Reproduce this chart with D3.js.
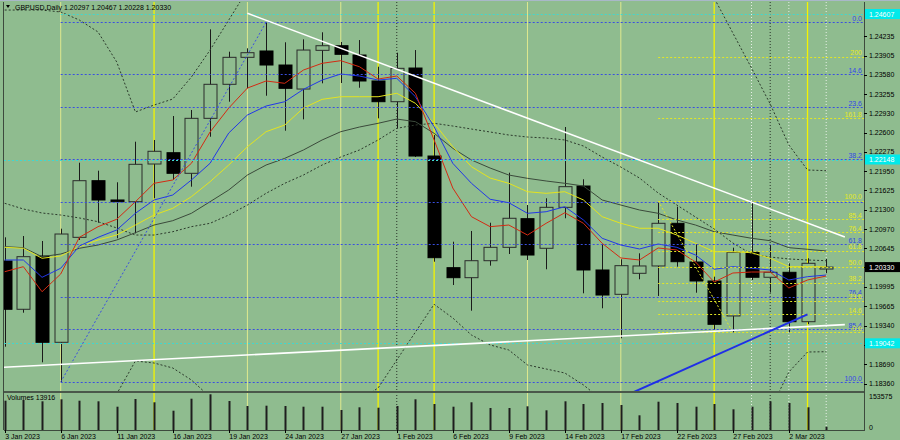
<!DOCTYPE html>
<html lang="en">
<head>
<meta charset="utf-8">
<title>GBPUSD,Daily</title>
<script src="https://cdn.jsdelivr.net/npm/d3@7"></script>
<style>
  body { margin: 0; background: #8fbc8f; }
  svg { display: block; font-family: "Liberation Sans", Arial, sans-serif; }
  .lbl { font-size: 7px; fill: #000; }
  .fib { font-size: 7px; }
</style>
</head>
<body>
<div id="chart"></div>
<script>
// trading days shown on the chart
var dates = ["2023-01-03","2023-01-04","2023-01-05","2023-01-06","2023-01-09","2023-01-10","2023-01-11","2023-01-12","2023-01-13",
  "2023-01-16","2023-01-17","2023-01-18","2023-01-19","2023-01-20","2023-01-23","2023-01-24","2023-01-25","2023-01-26","2023-01-27",
  "2023-01-30","2023-01-31","2023-02-01","2023-02-02","2023-02-03","2023-02-06","2023-02-07","2023-02-08","2023-02-09","2023-02-10",
  "2023-02-13","2023-02-14","2023-02-15","2023-02-16","2023-02-17","2023-02-20","2023-02-21","2023-02-22","2023-02-23","2023-02-24",
  "2023-02-27","2023-02-28","2023-03-01","2023-03-02","2023-03-03","2023-03-06"];

var open  = [1.20433,1.19617,1.20517,1.19059,1.20833,1.21790,1.21464,1.21435,1.22072,1.22263,1.21915,1.22844,1.23419,1.23875,1.23982,
  1.23745,1.23339,1.23993,1.24071,1.23914,1.23475,1.23125,1.23694,1.22207,1.20320,1.20151,1.20438,1.20664,1.21148,1.20648,
  1.21340,1.21700,1.20281,1.19870,1.20225,1.20349,1.21070,1.20416,1.20095,1.19504,1.20580,1.20158,1.20242,1.19407,1.20297];
var high  = [1.20833,1.20855,1.20771,1.20979,1.22094,1.21959,1.21763,1.22449,1.22478,1.22883,1.22985,1.24348,1.23970,1.24027,1.24467,
  1.24129,1.24179,1.24298,1.24134,1.24167,1.23716,1.23953,1.23998,1.22562,1.20759,1.20940,1.21080,1.21925,1.21379,1.21493,
  1.22697,1.21814,1.20720,1.20462,1.20563,1.21447,1.21351,1.20720,1.20168,1.20658,1.21435,1.20700,1.20394,1.20479,1.20467];
var low   = [1.18985,1.19559,1.18721,1.18388,1.20788,1.21080,1.20817,1.20901,1.21493,1.21802,1.21689,1.22533,1.23125,1.23351,1.23226,
  1.22635,1.22827,1.23436,1.23441,1.23361,1.22844,1.22675,1.22190,1.20421,1.20027,1.19593,1.20354,1.20551,1.20450,1.20293,
  1.21155,1.19887,1.19634,1.19127,1.20124,1.19842,1.20337,1.19897,1.19267,1.19228,1.20112,1.19900,1.19228,1.19368,1.20228];
var close = [1.19617,1.20506,1.19059,1.20889,1.21790,1.21464,1.21435,1.22067,1.22287,1.21915,1.22844,1.23419,1.23875,1.23953,1.23745,
  1.23351,1.23998,1.24071,1.23926,1.23475,1.23125,1.23689,1.22207,1.20489,1.20151,1.20438,1.20664,1.21155,1.20534,1.21340,
  1.21689,1.20281,1.19858,1.20354,1.20349,1.21070,1.20421,1.20095,1.19363,1.20580,1.20158,1.20242,1.19407,1.20394,1.20330];
var volume = [125000,128000,122400,131000,125000,122400,99400,132200,118200,82300,133500,152300,123700,102400,103700,
  102400,99400,99400,85300,96800,95100,102400,131000,110900,99400,118200,93900,93900,101100,84000,
  122400,110900,115200,106700,62700,120700,115200,99400,110900,88300,99400,122400,115200,96800,13916];

// moving averages and bands
var maRed = [1.20252,1.20337,1.19914,1.20213,1.20833,1.21013,1.21138,1.21435,1.21746,1.21802,1.22084,1.22613,1.23018,1.23356,1.23475,
  1.23436,1.23660,1.23774,1.23818,1.23716,1.23508,1.23559,1.23267,1.22478,1.21666,1.21182,1.21013,1.21041,1.20872,1.21070,
  1.21249,1.21070,1.20732,1.20484,1.20450,1.20653,1.20619,1.20416,1.20078,1.20230,1.20247,1.20247,1.19977,1.20112,1.20179];
var maBlue = [1.20450,1.20450,1.20157,1.20310,1.20686,1.20833,1.20957,1.21239,1.21464,1.21548,1.21802,1.22084,1.22596,1.22900,1.23052,
  1.23125,1.23334,1.23491,1.23593,1.23559,1.23491,1.23520,1.23209,1.22702,1.22084,1.21746,1.21476,1.21418,1.21239,1.21266,
  1.21350,1.21126,1.20817,1.20703,1.20636,1.20720,1.20664,1.20534,1.20293,1.20337,1.20310,1.20281,1.20112,1.20168,1.20196];
var maYellow = [1.20664,1.20648,1.20479,1.20517,1.20675,1.20788,1.20872,1.21041,1.21210,1.21323,1.21520,1.21773,1.22055,1.22364,1.22618,
  1.22731,1.23018,1.23165,1.23209,1.23209,1.23209,1.23267,1.23098,1.22760,1.22364,1.22026,1.21835,1.21746,1.21604,1.21577,
  1.21604,1.21464,1.21182,1.21070,1.20986,1.20986,1.20872,1.20732,1.20590,1.20590,1.20573,1.20479,1.20337,1.20337,1.20337];
var maDark = [1.20675,1.20658,1.20506,1.20551,1.20648,1.20703,1.20788,1.20911,1.21041,1.21114,1.21239,1.21435,1.21633,1.21886,1.22055,
  1.22168,1.22309,1.22478,1.22618,1.22697,1.22760,1.22832,1.22787,1.22591,1.22337,1.22140,1.22004,1.21886,1.21830,1.21785,
  1.21746,1.21700,1.21464,1.21379,1.21295,1.21239,1.21126,1.21041,1.20928,1.20872,1.20817,1.20776,1.20658,1.20631,1.20602];
var bbMid = [1.21408,1.21312,1.21244,1.21210,1.21160,1.21097,1.20991,1.20872,1.20872,1.20928,1.21013,1.21070,1.21210,1.21379,1.21577,
  1.21746,1.21886,1.22055,1.22190,1.22309,1.22478,1.22675,1.22731,1.22760,1.22714,1.22663,1.22613,1.22562,1.22528,1.22511,
  1.22478,1.22376,1.22190,1.22021,1.21835,1.21582,1.21379,1.21176,1.20974,1.20737,1.20551,1.20500,1.20467,1.20450,1.20438];
var bbUp = [1.24674,1.24674,1.24674,1.24641,1.24505,1.24303,1.23796,1.22951,1.23069,1.23170,1.23542,1.23998,1.24505,1.25012,1.25350,
  1.25604,1.25857,1.26026,1.26111,1.26195,1.26668,1.26584,1.26195,1.25823,1.25992,1.26212,1.26212,1.26195,1.26381,1.26415,
  1.26415,1.26415,1.26195,1.25857,1.25519,1.25266,1.25097,1.24978,1.24877,1.24286,1.23694,1.23086,1.22393,1.21971,1.21959];
var bbLow = [1.18152,1.17949,1.17814,1.17780,1.17814,1.17898,1.18186,1.18743,1.18709,1.18625,1.18422,1.18135,1.17915,1.17831,1.17746,
  1.17746,1.17831,1.17915,1.18000,1.18084,1.18287,1.18760,1.19233,1.19701,1.19470,1.19182,1.19014,1.18929,1.18676,1.18608,
  1.18540,1.18338,1.18084,1.17915,1.17814,1.17831,1.17662,1.17476,1.17070,1.17189,1.17408,1.17915,1.18557,1.18895,1.18900];

// price axis labels
var priceTicks = [1.24235,1.23905,1.23580,1.23255,1.22930,1.22600,1.22275,1.21950,1.21625,1.21300,1.20970,1.20645,
  1.20330,1.19995,1.19665,1.19340,1.19015,1.18690,1.18360];
var volTicks = [153575, 0];

// fibonacci retracements
var blueFibLabels = ["0.0","14.6","23.6","38.2","","61.8","76.4","85.4","100.0"];
var blueFibPrices = [1.24467,1.23588,1.23030,1.22151,1.21435,1.20715,1.19830,1.19279,1.18388];
var yellowFibLabels = ["200","161.8","100.0","85.4","76.4","61.8","50.0","38.2","23.6","14.6","0.0"];
var yellowFibPrices = [1.23885,1.22844,1.21452,1.21138,1.20918,1.20607,1.20337,1.20066,1.19757,1.19537,1.19228];

// horizontal cyan levels
var cyanLevels = [1.24607, 1.22148, 1.19042];

// vertical separators (candle index)
var paleLines = [3, 13, 18, 28, 33];
var brightLines = [8, 20, 23, 38, 43];
var blackDotLines = [21, 41];
var whiteDotLines = [40, 42, 44];

var width = 900, height = 440;
var plotL = 4, plotR = 864, plotT = 2, plotB = 391, volT = 392, volB = 430;
var bg = "#8fbc8f";

var parseDate = d3.timeParse("%Y-%m-%d");
var fmtDate = d3.timeFormat("%-d %b %Y");
var fmtPrice = d3.format(".5f");

var svg = d3.select("#chart").append("svg")
  .attr("width", width)
  .attr("height", height);

svg.append("rect").attr("width", width).attr("height", height).attr("fill", bg);

var x = d3.scaleLinear().domain([0, dates.length - 1]).range([4.7, 826.2]);
var y = d3.scaleLinear().domain([1.18236, 1.24793]).range([plotB, 3]);
var vy = d3.scaleLinear().domain([0, 153575]).range([volB, 394]);

var defs = svg.append("defs");
defs.append("clipPath").attr("id", "clipMain").append("rect")
  .attr("x", plotL).attr("y", plotT).attr("width", plotR - plotL).attr("height", plotB - plotT);
defs.append("clipPath").attr("id", "clipAll").append("rect")
  .attr("x", plotL).attr("y", plotT).attr("width", plotR - plotL).attr("height", volB - plotT);

// vertical lines behind everything
var vg = svg.append("g").attr("clip-path", "url(#clipAll)");
vg.selectAll(".pale").data(paleLines).enter().append("line")
  .attr("x1", d => x(d)).attr("x2", d => x(d)).attr("y1", plotT).attr("y2", volB)
  .attr("stroke", "#dfe98e").attr("stroke-width", 1);
vg.selectAll(".bright").data(brightLines).enter().append("line")
  .attr("x1", d => x(d)).attr("x2", d => x(d)).attr("y1", plotT).attr("y2", volB)
  .attr("stroke", "#f4f400").attr("stroke-width", 1.3);
vg.selectAll(".wdot").data(whiteDotLines).enter().append("line")
  .attr("x1", d => x(d)).attr("x2", d => x(d)).attr("y1", plotT).attr("y2", volB)
  .attr("stroke", "#e8f0e8").attr("stroke-width", 1).attr("stroke-dasharray", "1,2");
vg.selectAll(".bdot").data(blackDotLines).enter().append("line")
  .attr("x1", d => x(d)).attr("x2", d => x(d)).attr("y1", plotT).attr("y2", volB)
  .attr("stroke", "#2a332a").attr("stroke-width", 1).attr("stroke-dasharray", "1,2");

// candles
var main = svg.append("g").attr("clip-path", "url(#clipMain)");
var idx = d3.range(dates.length);
var bw = 13;

main.selectAll(".wick").data(idx).enter().append("line")
  .attr("x1", i => Math.round(x(i)) + 0.5).attr("x2", i => Math.round(x(i)) + 0.5)
  .attr("y1", i => y(high[i])).attr("y2", i => y(low[i]))
  .attr("stroke", "#1a1a1a").attr("stroke-width", 1);

main.selectAll(".body").data(idx).enter().append("rect")
  .attr("x", i => Math.round(x(i)) - 6)
  .attr("y", i => y(Math.max(open[i], close[i])))
  .attr("width", bw)
  .attr("height", i => Math.max(1, Math.abs(y(open[i]) - y(close[i]))))
  .attr("fill", i => close[i] >= open[i] ? bg : "#000")
  .attr("stroke", i => close[i] >= open[i] ? "#2b2b2b" : "#000")
  .attr("stroke-width", 1);

// volume bars
var vol = svg.append("g").attr("clip-path", "url(#clipAll)");
vol.selectAll(".vbar").data(idx).enter().append("line")
  .attr("x1", i => Math.round(x(i)) + 0.5).attr("x2", i => Math.round(x(i)) + 0.5)
  .attr("y1", vy(0)).attr("y2", i => vy(volume[i]))
  .attr("stroke", "#1e1e1e").attr("stroke-width", 2);

// indicators
function drawSeries(arr, color, w, dash) {
  var line = d3.line().x((d, i) => x(i)).y(d => y(d));
  main.append("path").datum(arr)
    .attr("d", line)
    .attr("fill", "none")
    .attr("stroke", color)
    .attr("stroke-width", w)
    .attr("stroke-dasharray", dash || null);
}
drawSeries(bbUp, "#2c3a2c", 1, "2,2");
drawSeries(bbMid, "#2c3a2c", 1, "2,2");
drawSeries(bbLow, "#2c3a2c", 1, "2,2");
drawSeries(maDark, "#3b4a3b", 1);
drawSeries(maYellow, "#e4e41e", 1);
drawSeries(maBlue, "#2237e8", 1);
drawSeries(maRed, "#d42a12", 1);

// horizontal levels
main.selectAll(".cyan").data(cyanLevels).enter().append("line")
  .attr("x1", (d, i) => i == 0 ? x(3) : plotL).attr("x2", plotR)
  .attr("y1", d => Math.round(y(d)) + 0.5).attr("y2", d => Math.round(y(d)) + 0.5)
  .attr("stroke", "#3fd8d0").attr("stroke-width", 1).attr("stroke-dasharray", "2,2");

main.selectAll(".bfib").data(blueFibPrices).enter().append("line")
  .attr("x1", x(3)).attr("x2", plotR)
  .attr("y1", d => Math.round(y(d)) + 0.5).attr("y2", d => Math.round(y(d)) + 0.5)
  .attr("stroke", "#3a4fe0").attr("stroke-width", 1).attr("stroke-dasharray", "2,2");

main.selectAll(".yfib").data(yellowFibPrices).enter().append("line")
  .attr("x1", x(35)).attr("x2", plotR)
  .attr("y1", d => Math.round(y(d)) + 0.5).attr("y2", d => Math.round(y(d)) + 0.5)
  .attr("stroke", "#e2e626").attr("stroke-width", 1).attr("stroke-dasharray", "2,2");

// fib diagonals and trend lines
function seg(i1, p1, i2, p2, color, w, dash) {
  main.append("line")
    .attr("x1", x(i1)).attr("y1", y(p1)).attr("x2", x(i2)).attr("y2", y(p2))
    .attr("stroke", color).attr("stroke-width", w)
    .attr("stroke-dasharray", dash || null);
}
seg(3, low[3], 14, high[14], "#3a4fe0", 1, "2,2");
seg(35, high[35], 39, low[39], "#e2e626", 1, "2,2");
seg(13, 1.24619, 45, 1.20838, "#ffffff", 1.6);
seg(-0.05, 1.18637, 45, 1.19357, "#ffffff", 1.6);
seg(33, 1.18121, 43, 1.19532, "#1f2fe6", 2);

// fib labels
main.selectAll(".bfl").data(blueFibPrices).enter().append("text")
  .attr("class", "fib")
  .attr("x", plotR - 2).attr("y", d => y(d) - 1.5)
  .attr("text-anchor", "end").attr("fill", "#3347e6")
  .text((d, i) => blueFibLabels[i]);
main.selectAll(".yfl").data(yellowFibPrices).enter().append("text")
  .attr("class", "fib")
  .attr("x", plotR - 2).attr("y", d => y(d) - 1.5)
  .attr("text-anchor", "end").attr("fill", "#e6ea22")
  .text((d, i) => yellowFibLabels[i]);

// frame
svg.append("line").attr("x1", 0).attr("x2", width).attr("y1", 0.5).attr("y2", 0.5).attr("stroke", "#a9b8c8");
svg.append("line").attr("x1", plotL - 0.5).attr("x2", plotL - 0.5).attr("y1", plotT).attr("y2", volB).attr("stroke", "#3d4a3d");
svg.append("line").attr("x1", plotR + 0.5).attr("x2", plotR + 0.5).attr("y1", plotT).attr("y2", volB + 1).attr("stroke", "#3d4a3d");
svg.append("line").attr("x1", plotL).attr("x2", plotR).attr("y1", plotB + 1).attr("y2", plotB + 1).attr("stroke", "#4a584a").attr("stroke-width", 2);
svg.append("line").attr("x1", plotL).attr("x2", plotR + 1).attr("y1", volB + 0.5).attr("y2", volB + 0.5).attr("stroke", "#3d4a3d");

// price axis
var ax = svg.append("g");
ax.selectAll(".tk").data(priceTicks).enter().append("line")
  .attr("x1", plotR).attr("x2", plotR + 3)
  .attr("y1", d => Math.round(y(d)) + 0.5).attr("y2", d => Math.round(y(d)) + 0.5)
  .attr("stroke", "#000");
ax.selectAll(".tl").data(priceTicks).enter().append("text")
  .attr("class", "lbl")
  .attr("x", plotR + 5).attr("y", d => y(d) + 2.5)
  .text(d => fmtPrice(d));

// level tags on the axis
function tag(p, fill, txt) {
  ax.append("rect").attr("x", plotR + 1).attr("y", y(p) - 5).attr("width", 35).attr("height", 10).attr("fill", fill);
  ax.append("text").attr("class", "lbl").attr("x", plotR + 5).attr("y", y(p) + 2.5)
    .attr("fill", txt).style("fill", txt).text(fmtPrice(p));
}
cyanLevels.forEach(p => tag(p, "#00eaea", "#ffffff"));
tag(close[close.length - 1], "#000000", "#ffffff");

// volume axis
ax.selectAll(".vl").data(volTicks).enter().append("text")
  .attr("class", "lbl")
  .attr("x", plotR + 5).attr("y", d => d > 0 ? vy(d) + 5 : vy(d) - 0.5)
  .text(d => d);

// date axis
var dateIdx = idx.filter(i => i % 3 == 0);
svg.selectAll(".dt").data(dateIdx).enter().append("line")
  .attr("x1", i => Math.round(x(i)) + 0.5).attr("x2", i => Math.round(x(i)) + 0.5)
  .attr("y1", volB).attr("y2", volB + 3).attr("stroke", "#000");
svg.selectAll(".dl").data(dateIdx).enter().append("text")
  .attr("class", "lbl")
  .attr("x", i => x(i) + 0.5).attr("y", 438.5)
  .text(i => fmtDate(parseDate(dates[i])));

// header and volume title
var last = dates.length - 1;
svg.append("path").attr("d", "M6,5 L10,5 L8,8 Z").attr("fill", "#000");
svg.append("text").attr("class", "lbl").attr("x", 15).attr("y", 9.5)
  .text("GBPUSD,Daily  " + [open[last], high[last], low[last], close[last]].map(fmtPrice).join(" "));
svg.append("text").attr("class", "lbl").attr("x", 7).attr("y", 399.5)
  .text("Volumes " + volume[last]);
</script>
</body>
</html>
